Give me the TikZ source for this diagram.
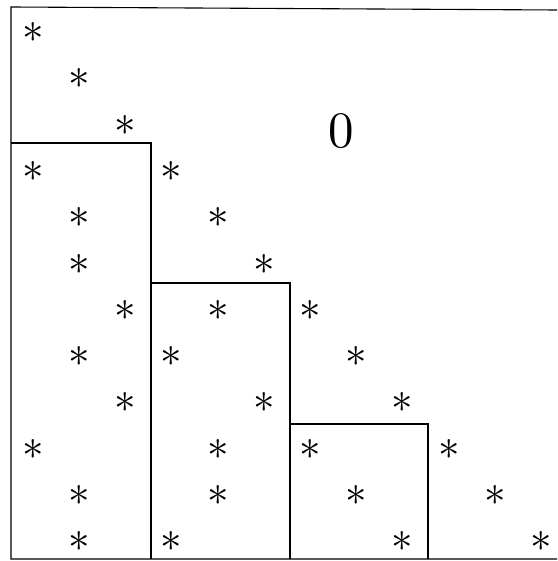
\documentclass[tikz,border=0pt]{standalone}
\usepackage{graphicx}
\begin{document}
\begin{tikzpicture}[x=1pt,y=-1pt,
  star/.style={inner sep=0pt,font=\fontsize{10}{12}\selectfont},
  frame/.style={line width=1.1pt,line join=miter}]
\useasboundingbox (0,0) rectangle (557,561);
% outer frame (left, top, bottom)
\draw[frame] (557,10) -- (11,7) -- (11,559) -- (557,559);
% blocks
\draw[frame] (11,143) -- (151,143) -- (151,559);
\draw[frame] (151,283) -- (290,283) -- (290,559);
\draw[frame] (290,424) -- (428,424) -- (428,559);
% zero
\node[inner sep=0pt,font=\fontsize{10}{12}\selectfont] (zero) at (341,131) {\scalebox{5.1}{0}};
% asterisks: {row/col}
\foreach \r/\c in {0/0,1/1,2/2,3/0,3/3,4/1,4/4,5/1,5/5,6/2,6/4,6/6,7/1,7/3,7/7,
  8/2,8/5,8/8,9/0,9/4,9/6,9/9,10/1,10/4,10/7,10/10,11/1,11/3,11/8,11/11}
  \node[star] (s\r-\c) at ({33+46.2*\c},{32.5+46.3*\r}) {\scalebox{4.3}{$\ast$}};
\end{tikzpicture}
\end{document}
